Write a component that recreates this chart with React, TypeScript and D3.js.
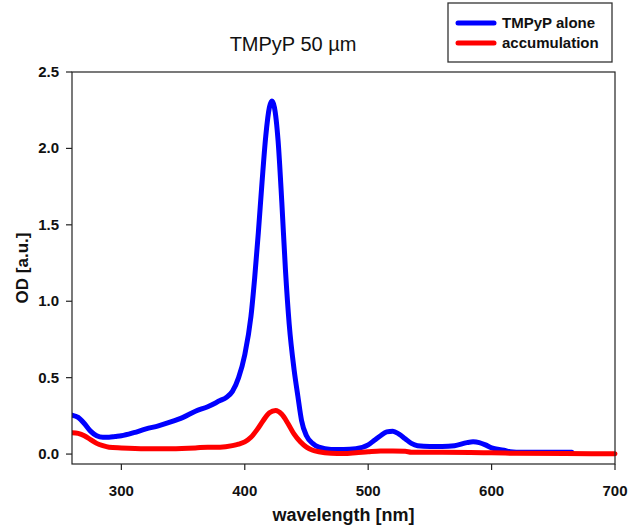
import React from "react";
import * as d3 from "d3";

const blueWavelengths = [260, 265, 270, 275, 280, 285, 290, 295, 300, 310, 320, 330, 340, 350, 360, 370, 380, 385, 390, 395, 400, 405, 408, 411, 414, 417, 420, 422, 424, 427, 430, 433, 436, 440, 443, 446, 450, 455, 460, 470, 480, 490, 500, 505, 510, 515, 520, 525, 530, 535, 540, 550, 560, 570, 580, 585, 590, 595, 600, 610, 615, 620, 640, 665];
const blueValues = [0.255, 0.24, 0.2, 0.15, 0.12, 0.11, 0.11, 0.115, 0.12, 0.14, 0.165, 0.185, 0.21, 0.24, 0.28, 0.31, 0.35, 0.37, 0.41, 0.5, 0.65, 0.9, 1.15, 1.45, 1.78, 2.08, 2.27, 2.31, 2.27, 2.05, 1.65, 1.2, 0.85, 0.55, 0.38, 0.22, 0.12, 0.07, 0.045, 0.03, 0.03, 0.035, 0.06, 0.09, 0.12, 0.145, 0.15, 0.13, 0.1, 0.07, 0.055, 0.05, 0.05, 0.055, 0.075, 0.08, 0.075, 0.06, 0.04, 0.025, 0.015, 0.012, 0.012, 0.012];

const redWavelengths = [260, 265, 270, 275, 280, 285, 290, 300, 320, 340, 360, 370, 380, 390, 395, 400, 405, 410, 415, 420, 425, 430, 435, 440, 445, 450, 455, 460, 470, 480, 490, 500, 510, 520, 530, 535, 560, 600, 620, 660, 700];
const redValues = [0.14, 0.135, 0.12, 0.095, 0.07, 0.055, 0.045, 0.04, 0.035, 0.035, 0.04, 0.045, 0.045, 0.055, 0.065, 0.08, 0.11, 0.16, 0.22, 0.27, 0.285, 0.26, 0.2, 0.13, 0.08, 0.045, 0.025, 0.015, 0.005, 0.003, 0.008, 0.015, 0.02, 0.02, 0.018, 0.012, 0.012, 0.008, 0.005, 0.003, 0.002];

const xTicks = [300, 400, 500, 600, 700];
const yTicks = [0, 0.5, 1.0, 1.5, 2.0, 2.5];
const seriesNames = ["TMPyP alone", "accumulation"];
const seriesColors = ["#0000ff", "#ff0000"];

const FONT = "'Liberation Sans', Arial, sans-serif";

export default function App() {
  const left = 72, right = 615, top = 72, bottom = 464;
  const x = d3.scaleLinear().domain([260, 700]).range([left, right]);
  const y = d3.scaleLinear().domain([-0.065, 2.5]).range([bottom, top]);

  const line = d3
    .line<[number, number]>()
    .x((d) => x(d[0]))
    .y((d) => y(d[1]))
    .curve(d3.curveMonotoneX);

  const blue: [number, number][] = blueWavelengths.map((w, i) => [w, blueValues[i]]);
  const red: [number, number][] = redWavelengths.map((w, i) => [w, redValues[i]]);
  const series = [blue, red];

  return (
    <svg
      width={630}
      height={530}
      style={{ position: "absolute", left: 0, top: 0, background: "#fff" }}
      fontFamily={FONT}
    >
      <rect x={0} y={0} width={630} height={530} fill="#fff" />
      {/* title */}
      <text x={293} y={51} textAnchor="middle" fontSize={20} fill="#111">
        TMPyP 50 µm
      </text>

      {/* curves */}
      <g clipPath="url(#clip)">
        {series.map((s, i) => (
          <path
            key={i}
            d={line(s) || ""}
            fill="none"
            stroke={seriesColors[i]}
            strokeWidth={5}
            strokeLinejoin="round"
            strokeLinecap="round"
          />
        ))}
      </g>
      <defs>
        <clipPath id="clip">
          <rect x={left} y={top - 10} width={right - left + 4} height={bottom - top + 10} />
        </clipPath>
      </defs>

      {/* frame */}
      <rect x={left} y={top} width={right - left} height={bottom - top} fill="none" stroke="#222" strokeWidth={1.2} />

      {/* y axis ticks */}
      {yTicks.map((t) => (
        <g key={t}>
          <line x1={left - 6} x2={left} y1={y(t)} y2={y(t)} stroke="#222" strokeWidth={1.2} />
          <text x={left - 13} y={y(t) + 5} textAnchor="end" fontSize={15} fontWeight="bold" fill="#111">
            {t.toFixed(1)}
          </text>
        </g>
      ))}

      {/* x axis ticks */}
      {xTicks.map((t) => (
        <g key={t}>
          <line x1={x(t)} x2={x(t)} y1={bottom} y2={bottom + 6} stroke="#222" strokeWidth={1.2} />
          <text x={x(t)} y={bottom + 32} textAnchor="middle" fontSize={15} fontWeight="bold" fill="#111">
            {t}
          </text>
        </g>
      ))}

      {/* axis titles */}
      <text x={(left + right) / 2} y={521} textAnchor="middle" fontSize={18} fontWeight="bold" fill="#111">
        wavelength [nm]
      </text>
      <text
        transform={`translate(28, ${(top + bottom) / 2}) rotate(-90)`}
        textAnchor="middle"
        fontSize={17}
        fontWeight="bold"
        fill="#111"
      >
        OD [a.u.]
      </text>

      {/* legend */}
      <rect x={448} y={3} width={164} height={59} fill="#fff" stroke="#333" strokeWidth={1.3} />
      {seriesNames.map((n, i) => (
        <g key={n}>
          <line x1={458} x2={494} y1={23 + i * 20} y2={23 + i * 20} stroke={seriesColors[i]} strokeWidth={5} strokeLinecap="round" />
          <text x={502} y={28 + i * 20} fontSize={15} fontWeight="bold" fill="#111">
            {n}
          </text>
        </g>
      ))}
    </svg>
  );
}
